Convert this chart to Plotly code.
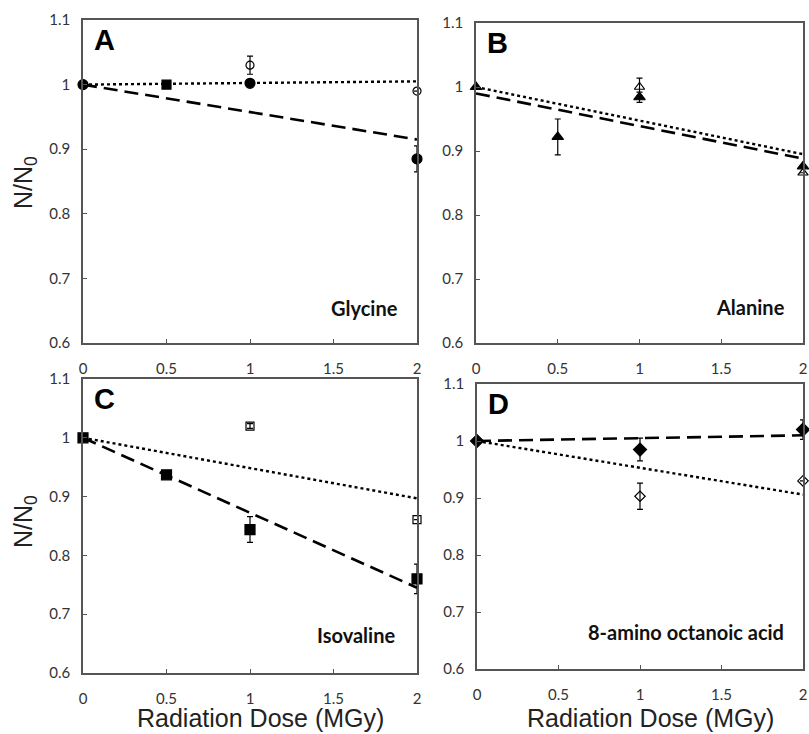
import plotly.graph_objects as go

# ---------------- data ----------------
x_ticks = [0, 0.5, 1, 1.5, 2]
x_tick_text = ["0", "0.5", "1", "1.5", "2"]
y_ticks = [0.6, 0.7, 0.8, 0.9, 1.0, 1.1]
y_tick_text = ["0.6", "0.7", "0.8", "0.9", "1", "1.1"]
x_title = "Radiation Dose (MGy)"
y_title = "N/N<sub>0</sub>"

# A: Glycine
gly_fill_x = [0, 1, 2]
gly_fill_y = [1.0, 1.002, 0.885]
gly_fill_err = [0, 0, 0.02]
gly_sq_x = [0.5]
gly_sq_y = [1.0]
gly_open_x = [1, 2]
gly_open_y = [1.03, 0.99]
gly_open_err = [0.014, 0]
gly_dot_x = [0, 2]
gly_dot_y = [1.0, 1.005]
gly_dash_x = [0, 2]
gly_dash_y = [1.0, 0.915]

# B: Alanine
ala_fill_x = [0, 0.5, 1, 2]
ala_fill_y = [1.0, 0.922, 0.984, 0.876]
ala_fill_err = [0, 0.028, 0.008, 0]
ala_open_x = [1, 2]
ala_open_y = [1.0, 0.866]
ala_open_err = [0.014, 0]
ala_dot_x = [0, 2]
ala_dot_y = [1.0, 0.895]
ala_dash_x = [0, 2]
ala_dash_y = [0.99, 0.888]

# C: Isovaline
iso_fill_x = [0, 0.5, 1, 2]
iso_fill_y = [1.0, 0.937, 0.844, 0.76]
iso_fill_err = [0, 0, 0.022, 0.025]
iso_open_x = [1, 2]
iso_open_y = [1.02, 0.861]
iso_open_err = [0.004, 0]
iso_dot_x = [0, 2]
iso_dot_y = [1.0, 0.897]
iso_dash_x = [0, 2]
iso_dash_y = [1.0, 0.745]

# D: 8-amino octanoic acid
aoa_fill_x = [0, 1, 2]
aoa_fill_y = [1.0, 0.985, 1.02]
aoa_fill_err = [0, 0.02, 0.017]
aoa_open_x = [1, 2]
aoa_open_y = [0.903, 0.93]
aoa_open_err = [0.023, 0]
aoa_dot_x = [0, 2]
aoa_dot_y = [1.0, 0.906]
aoa_dash_x = [0, 2]
aoa_dash_y = [1.0, 1.01]

W, H = 809, 734

fig = go.Figure()

def err(vals):
    return dict(type="data", array=vals, visible=True, color="black",
                thickness=1.2, width=3)

def add_panel(ax, dot, dash, series):
    xa = "x" if ax == 1 else f"x{ax}"
    ya = "y" if ax == 1 else f"y{ax}"
    fig.add_trace(go.Scatter(x=dot[0], y=dot[1], mode="lines", xaxis=xa, yaxis=ya,
                             line=dict(color="black", width=2.4, dash="dot"),
                             showlegend=False, hoverinfo="skip"))
    fig.add_trace(go.Scatter(x=dash[0], y=dash[1], mode="lines", xaxis=xa, yaxis=ya,
                             line=dict(color="black", width=2.6, dash="14px,7px"),
                             showlegend=False, hoverinfo="skip"))
    for (sx, sy, se, sym, size) in series:
        fig.add_trace(go.Scatter(x=sx, y=sy, mode="markers", xaxis=xa, yaxis=ya,
                                 error_y=err(se) if se is not None else None,
                                 marker=dict(symbol=sym, size=size, color="black",
                                             line=dict(color="black", width=1.2)),
                                 cliponaxis=False, showlegend=False))

add_panel(1, (gly_dot_x, gly_dot_y), (gly_dash_x, gly_dash_y), [
    (gly_open_x, gly_open_y, gly_open_err, "circle-open", 8),
    (gly_sq_x, gly_sq_y, None, "square", 9),
    (gly_fill_x, gly_fill_y, gly_fill_err, "circle", 10),
])
add_panel(2, (ala_dot_x, ala_dot_y), (ala_dash_x, ala_dash_y), [
    (ala_open_x, ala_open_y, ala_open_err, "triangle-up-open", 9),
    (ala_fill_x, ala_fill_y, ala_fill_err, "triangle-up", 10),
])
add_panel(3, (iso_dot_x, iso_dot_y), (iso_dash_x, iso_dash_y), [
    (iso_open_x, iso_open_y, iso_open_err, "square-open", 8),
    (iso_fill_x, iso_fill_y, iso_fill_err, "square", 10),
])
add_panel(4, (aoa_dot_x, aoa_dot_y), (aoa_dash_x, aoa_dash_y), [
    (aoa_open_x, aoa_open_y, aoa_open_err, "diamond-open", 8),
    (aoa_fill_x, aoa_fill_y, aoa_fill_err, "diamond", 10),
])

# panel pixel boxes in the reference picture: (left, right, top, bottom)
boxes = {
    1: (83, 417, 20, 343),
    2: (476, 803, 23, 343),
    3: (83, 417, 379, 673),
    4: (477, 803, 384, 669),
}

def px(x):
    return x / W

def py(y):
    return 1 - y / H

tickfont = dict(family="Lato", size=15, color="#333333")
axis_common = dict(showline=True, linecolor="#555555", linewidth=1.6, mirror=True,
                   ticks="inside", ticklen=4, tickcolor="#555555", tickwidth=1,
                   showgrid=False, zeroline=False, tickfont=tickfont, automargin=False)

layout = {}
for i, (l, r, t, b) in boxes.items():
    sfx = "" if i == 1 else str(i)
    xaxis = dict(domain=[px(l), px(r)], range=[0, 2], tickvals=x_ticks, ticktext=x_tick_text,
                 anchor="y" + sfx, ticklabelstandoff=11, **axis_common)
    yaxis = dict(domain=[py(b), py(t)], range=[0.6, 1.1], tickvals=y_ticks, ticktext=y_tick_text,
                 anchor="x" + sfx, ticklabelstandoff=8, **axis_common)
    layout["xaxis" + sfx] = xaxis
    layout["yaxis" + sfx] = yaxis

fig.update_layout(width=W, height=H, margin=dict(l=0, r=0, t=0, b=0, autoexpand=False),
                  plot_bgcolor="white", paper_bgcolor="white", **layout)

title_font = dict(family="Liberation Sans", size=25, color="#222222")
# x-axis titles (bottom row) and y-axis titles (left column)
for (cx, cy) in [(260, 718), (650, 718)]:
    fig.add_annotation(x=px(cx), y=py(cy), xref="paper", yref="paper", text=x_title,
                       showarrow=False, xanchor="center", yanchor="middle", font=title_font)
for (cx, cy) in [(25, 183), (25, 522)]:
    fig.add_annotation(x=px(cx), y=py(cy), xref="paper", yref="paper", text=y_title,
                       showarrow=False, xanchor="center", yanchor="middle", textangle=-90,
                       font=dict(family="Liberation Sans", size=25, color="#222222"))

letters = ["A", "B", "C", "D"]
names = ["Glycine", "Alanine", "Isovaline", "8-amino octanoic acid"]
name_pos = [(400, 322), (787, 321), (397, 649), (786, 646)]
for i, (letter, name, (nx, ny)) in enumerate(zip(letters, names, name_pos), start=1):
    l, r, t, b = boxes[i]
    fig.add_annotation(x=px(l + 9), y=py(t + 2), xref="paper", yref="paper",
                       text=f"<b>{letter}</b>", showarrow=False, xanchor="left",
                       yanchor="top", font=dict(family="Liberation Sans", size=29, color="black"))
    fig.add_annotation(x=px(nx), y=py(ny), xref="paper", yref="paper",
                       text=f"<b>{name}</b>", showarrow=False, xanchor="right",
                       yanchor="bottom", font=dict(family="Lato", size=20, color="#111111"))

fig.write_html("out.html", config={"displayModeBar": False},
               post_script="document.body.style.margin='0';document.body.style.overflow='hidden';")
